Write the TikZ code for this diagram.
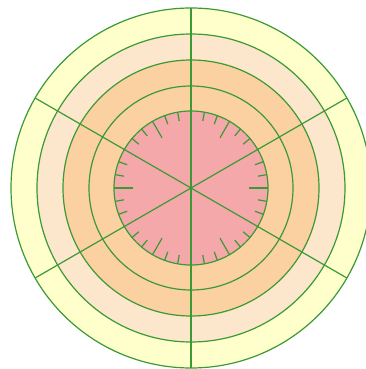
\documentclass[tikz,border=0pt]{standalone}
\usepackage{tikz}
\definecolor{ringyellow}{HTML}{FFFFCC}
\definecolor{ringpeach}{HTML}{FCE6CC}
\definecolor{ringorange}{HTML}{FBD1A2}
\definecolor{corepink}{HTML}{F4A8A9}
\definecolor{rimgreen}{HTML}{3A9A34}
\tikzset{
  rim/.style={draw=rimgreen, line width=1.2pt},
  spoke/.style={draw=rimgreen, line width=1.2pt},
  tick/.style={draw=rimgreen, line width=1.2pt, line cap=butt},
}

\begin{document}
\begin{tikzpicture}[x=1pt,y=1pt]

\useasboundingbox (-191,-181) rectangle (175,188);
\clip (-191,-181) rectangle (175,188);

% filled bands
\fill[ringyellow] (0,0) circle (180);
\fill[ringpeach] (0,0) circle (154);
\fill[ringorange] (0,0) circle (128);
\fill[corepink] (0,0) circle (77);

% rings
\foreach \r in {180,154,128,102,77}
  \draw[rim] (0,0) circle (\r);

% spokes
\foreach \a in {30,90,150}
  \draw[spoke] (\a:180) -- (\a+180:180);

% long ticks
\foreach \a in {0,60,...,300}
  \draw[tick] (\a:77) -- (\a:58);

% short ticks
\foreach \b in {0,60,...,300}
  \foreach \d in {10,20,40,50}
    \draw[tick] (\b+\d:77) -- (\b+\d:68);

\end{tikzpicture}
\end{document}
